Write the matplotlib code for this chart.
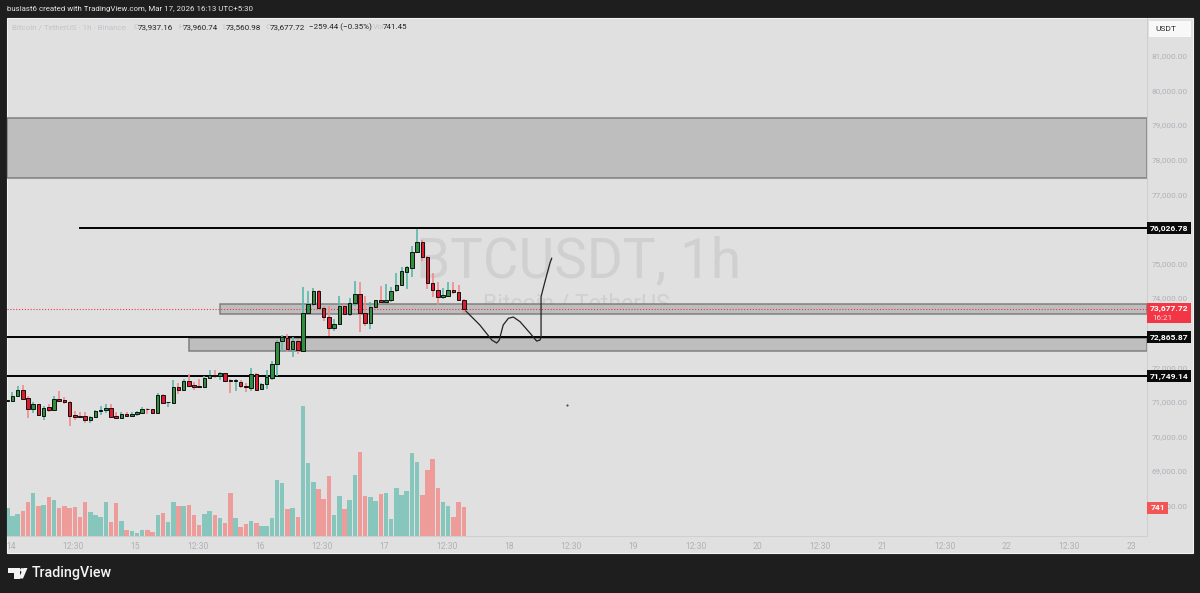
import matplotlib
matplotlib.use('Agg')
import matplotlib.pyplot as plt
from matplotlib.patches import Rectangle, Polygon, Circle

# hourly candles
opens = [71027, 71027, 71161, 71335, 71104, 70796, 70930, 70603, 70844, 70767,
         71075, 71046, 71007, 70613, 70593, 70593, 70487, 70564, 70728, 70757,
         70834, 70593, 70545, 70661, 70593, 70651, 70680, 70796, 70786, 70690,
         71210, 70988, 70979, 71431, 71354, 71595, 71479, 71450, 71431, 71701,
         71768, 71739, 71826, 71624, 71604, 71585, 71470, 71412, 71797, 71364,
         71527, 71701, 72086, 72760, 72850, 72531, 72752, 72483, 73561, 73821,
         74207, 73715, 73446, 73128, 73253, 73783, 73542, 73850, 74110, 73571,
         73282, 73744, 73937, 73898, 73946, 74226, 74389, 74765, 74881, 75324,
         75632, 75189, 74447, 74235, 74033, 74062, 74235, 74187, 73937.16]
highs = [71065, 71296, 71450, 71479, 71171, 70998, 70950, 70882, 70950, 71161,
         71306, 71142, 71027, 70738, 70709, 70718, 70593, 70776, 70892, 70930,
         70930, 70718, 70699, 70709, 70699, 70738, 70853, 70834, 70796, 71248,
         71238, 71007, 71633, 71556, 71653, 71816, 71585, 71662, 71749, 71932,
         71913, 71874, 71836, 71653, 71653, 71633, 71556, 71970, 71845, 71556,
         71922, 72182, 72790, 72940, 72950, 72868, 72820, 74332, 74216, 74284,
         74235, 73783, 73783, 73398, 74052, 73831, 73995, 74505, 74457, 74072,
         73898, 73956, 74361, 74409, 74312, 74727, 74890, 74938, 75516, 75998,
         75680, 75227, 74727, 74457, 74293, 74457, 74457, 74380, 73960.74]
lows = [71007, 71007, 71142, 71046, 70545, 70670, 70593, 70478, 70718, 70757,
        71027, 70930, 70304, 70468, 70526, 70401, 70381, 70526, 70622, 70690,
        70564, 70497, 70497, 70574, 70564, 70593, 70661, 70661, 70680, 70680,
        70959, 70853, 70969, 71219, 71344, 71460, 71344, 71412, 71412, 71682,
        71701, 71643, 71585, 71248, 71315, 71412, 71296, 71315, 71354, 71335,
        71364, 71624, 71749, 72443, 72450, 72290, 72386, 72454, 73542, 73783,
        73687, 73350, 72897, 73060, 73224, 73523, 73494, 73783, 73012, 73205,
        73109, 73706, 73831, 73860, 73898, 74187, 74361, 74264, 74601, 75304,
        75083, 74264, 74024, 73802, 73975, 74024, 74120, 73918, 73560.98]
closes = [71046, 71171, 71335, 71084, 70805, 70930, 70622, 70824, 70767, 71075,
          71027, 70988, 70593, 70574, 70564, 70487, 70555, 70738, 70776, 70834,
          70574, 70545, 70661, 70603, 70661, 70699, 70796, 70786, 70690, 71210,
          70969, 70998, 71441, 71344, 71595, 71470, 71441, 71441, 71701, 71787,
          71739, 71826, 71604, 71595, 71624, 71460, 71441, 71807, 71354, 71527,
          71720, 72086, 72731, 72870, 72530, 72772, 72492, 73571, 73831, 74216,
          73706, 73446, 73128, 73253, 73773, 73542, 73860, 74120, 73561, 73272,
          73754, 73937, 73898, 73956, 74216, 74380, 74775, 74890, 75324, 75632,
          75179, 74438, 74235, 74024, 74081, 74235, 74187, 73946, 73677.72]
volumes = [731, 507, 559, 645, 869, 1101, 765, 800, 998, 937,
           722, 765, 722, 748, 482, 886, 628, 533, 482, 886,
           353, 851, 396, 163, 120, 86, 146, 146, 112, 550,
           585, 361, 886, 783, 783, 800, 533, 292, 559, 654,
           533, 464, 344, 1101, 464, 224, 310, 378, 327, 258,
           258, 464, 1453, 1376, 697, 714, 499, 3345, 1875, 1402,
           1221, 946, 1539, 550, 1032, 688, 920, 1574, 2167, 1023,
           998, 903, 1092, 1118, 430, 1238, 1049, 1152, 2133, 1918,
           1049, 1711, 1978, 1238, 886, 765, 482, 869, 741]

price_ticks = [68000, 69000, 70000, 71000, 72000, 73000, 74000, 75000, 76000,
               77000, 78000, 79000, 80000, 81000]
time_labels = ['14', '12:30', '15', '12:30', '16', '12:30', '17', '12:30', '18', '12:30',
               '19', '12:30', '20', '12:30', '21', '12:30', '22', '12:30', '23']

zone_top = (77472, 79206, 0)
zone_mid = (73540, 73830, 41)
zone_low = (72470, 72850, 35)
levels = [(76026.78, 14), (72865.87, 0), (71749.14, 0)]
# the hand drawn path, bar number and price
sketch_x = [88.4, 91.1, 93.4, 94.35, 94.85, 95.6, 96.6, 97.55, 98.85, 100.8, 102.05, 102.7, 102.9, 102.9,
            103.65, 104.6, 104.95]
sketch_y = [73628, 73223, 72790, 72703, 72790, 73223, 73417, 73455, 73319, 72984, 72759, 72790, 72885, 74041,
            74475, 75006, 75151]

W, H = 1200, 593
BG = '#e0e0e0'
TXT = '#b0b0b8'
UP_BODY, DOWN_BODY = '#2f8f3e', '#e01b30'
UP_WICK, DOWN_WICK = '#58b8aa', '#f28a8a'
UP_VOL, DOWN_VOL = '#86c6bc', '#ee9c9a'


def fx(px):
    return px / W


def fy(py):
    return 1 - py / H


def fig_rect(x0, y0, x1, y1, **kw):
    fig.patches.append(Rectangle((fx(x0), fy(y1)), fx(x1 - x0), (y1 - y0) / H, transform=fig.transFigure, **kw))


fig = plt.figure(figsize=(W / 100, H / 100), dpi=100, facecolor='#1e1e1e')
plt.rcParams['font.family'] = ['Roboto', 'DejaVu Sans']

# whole chart panel, price scale and time scale included
fig_rect(7, 17.5, 1193, 553, facecolor=BG, edgecolor='#f2f2f2', linewidth=0.8, zorder=-2)

# watermark
fig.text(fx(578), fy(262), 'BTCUSDT, 1h', fontsize=39.5, color='#d0d0d0', ha='center', va='center', zorder=-1)
fig.text(fx(576), fy(304), 'Bitcoin / TetherUS', fontsize=16.6, color='#d0d0d0', ha='center', va='center', zorder=-1)

ax = fig.add_axes([fx(7), fy(536), fx(1140), 518.5 / H], facecolor='none')
px_per_bar = 5.187
ax.set_xlim(-0.06, 1140 / px_per_bar - 0.06)
# 28.9 dollars per pixel, anchored on the 76,026.78 label at y=228
ax.set_ylim(76026.78 - (536 - 228) * 28.9, 76026.78 + (228 - 17.5) * 28.9)

# volume below the candles
vol = ax.twinx()
vol.set_ylim(0, 518.5 * 25.8)
vol.set_axis_off()
vol.set_zorder(0)
ax.set_zorder(1)
bars = range(len(opens))
vol_col = [UP_VOL if c >= o else DOWN_VOL for o, c in zip(opens, closes)]
vol.bar(bars, volumes, width=0.86, color=vol_col, edgecolor='none')

for s in ax.spines.values():
    s.set_visible(False)
ax.spines['right'].set_visible(True)
ax.spines['right'].set_color('#cfcfcf')
ax.spines['right'].set_linewidth(0.8)
ax.spines['bottom'].set_visible(True)
ax.spines['bottom'].set_color('#cfcfcf')
ax.spines['bottom'].set_linewidth(0.8)

ax.yaxis.tick_right()  # twinx moved them to the left
ax.set_yticks(price_ticks)
ax.set_yticklabels([f'{p:,.2f}' for p in price_ticks], fontsize=5.9, color=TXT)
ax.tick_params(axis='y', length=0, pad=3.6)
ax.set_xticks([0.7 + 12 * k for k in range(len(time_labels))])
ax.set_xticklabels(time_labels, fontsize=6.2, color=TXT)
ax.tick_params(axis='x', length=0, pad=4)

# zones
x0, x1 = ax.get_xlim()
for lo, hi, start in [zone_top, zone_mid, zone_low]:
    left = max(start, x0)
    ax.add_patch(Rectangle((left, lo), x1 - left, hi - lo, facecolor='#bdbdbd', edgecolor='#7c7c7c',
                           linewidth=1.1, alpha=0.95, zorder=1))

for price, start in levels:
    ax.plot([start, x1], [price, price], color='#000000', lw=1.4, zorder=3)

ax.axhline(closes[-1], color='#f23645', lw=0.8, ls=(0, (1, 1.6)), zorder=3)

# candles
for i in bars:
    up = closes[i] >= opens[i]
    ax.plot([i, i], [lows[i], highs[i]], color=UP_WICK if up else DOWN_WICK, lw=1.2, zorder=4,
            solid_capstyle='butt')
    ax.bar(i, max(abs(closes[i] - opens[i]), 20), bottom=min(opens[i], closes[i]), width=0.68,
           color=UP_BODY if up else DOWN_BODY, edgecolor='#111111', linewidth=0.7, zorder=5)

ax.plot(sketch_x, sketch_y, color='#222222', lw=0.9, zorder=6)
ax.plot([107.9], [70911], marker='s', ms=0.6, color='#555555', zorder=6)

# price scale tags
for price, _ in levels:
    ax.annotate(f'{price:,.2f}', xy=(1, price), xycoords=('axes fraction', 'data'), xytext=(22, 0),
                textcoords='offset pixels', ha='center', va='center', fontsize=6.1, fontweight='bold',
                color='white', annotation_clip=False, zorder=8,
                bbox=dict(boxstyle='square,pad=0.3', facecolor='#0a0a0a', edgecolor='none'))
fig_rect(1147, 303, 1191, 323, facecolor='#f23645', edgecolor='none', zorder=5)
fig.text(fx(1169), fy(309), f'{closes[-1]:,.2f}', fontsize=6.1, fontweight='bold', color='white',
         ha='center', va='center', zorder=6)
fig.text(fx(1152), fy(317.5), '16:21', fontsize=5.9, color='#ffd5d5', ha='left', va='center', zorder=6)
fig_rect(1147, 501.5, 1168, 513.5, facecolor='#f25555', edgecolor='none', zorder=5)
fig.text(fx(1158), fy(507.5), f'{volumes[-1]:.0f}', fontsize=6.1, fontweight='bold', color='white',
         ha='center', va='center', zorder=6)

fig_rect(1149, 20.7, 1191, 36.7, facecolor='#f8f8f8', edgecolor='none', zorder=5)
fig.text(fx(1155), fy(29), 'USDT', fontsize=6.0, color='#2a2a2a', ha='left', va='center', zorder=6)

# header and legend
fig.text(fx(7), fy(9.5), 'buslast6 created with TradingView.com, Mar 17, 2026 16:13 UTC+5:30',
         fontsize=5.7, color='#e6e6e6', va='center')
legend = [(12, 'Bitcoin / TetherUS · 1h · Binance', '#c4c4cc'), (133, 'O', '#c4c4cc'), (138, '73,937.16', '#222222'),
          (178, 'H', '#c4c4cc'), (183, '73,960.74', '#222222'), (222, 'L', '#c4c4cc'), (226, '73,560.98', '#222222'),
          (265, 'C', '#c4c4cc'), (270, '73,677.72', '#222222'), (309, '−259.44 (−0.35%)', '#222222'),
          (373, 'Vol', '#c4c4cc'), (383, '741.45', '#222222')]
for x, t, c in legend:
    fig.text(fx(x), fy(27), t, fontsize=5.8, color=c, va='center')

# logo and footer
white = '#f4f4f4'
fig_rect(8, 568, 20, 572.5, facecolor=white, edgecolor='none')
fig_rect(14, 568, 20, 578.5, facecolor=white, edgecolor='none')
fig.patches.append(Polygon([(fx(23.5), fy(568)), (fx(27.5), fy(568)), (fx(23), fy(578.5)), (fx(18.5), fy(578.5))],
                           closed=True, transform=fig.transFigure, facecolor=white, edgecolor='none'))
logo_dot = Circle((22, H - 570), 1.9, transform=None, facecolor=white, edgecolor='none')
fig.patches.append(logo_dot)
fig.text(fx(32), fy(573.5), 'TradingView', fontsize=10.3, fontweight='medium', color=white, va='center')

fig.savefig('out.png', dpi=100, facecolor=fig.get_facecolor())
